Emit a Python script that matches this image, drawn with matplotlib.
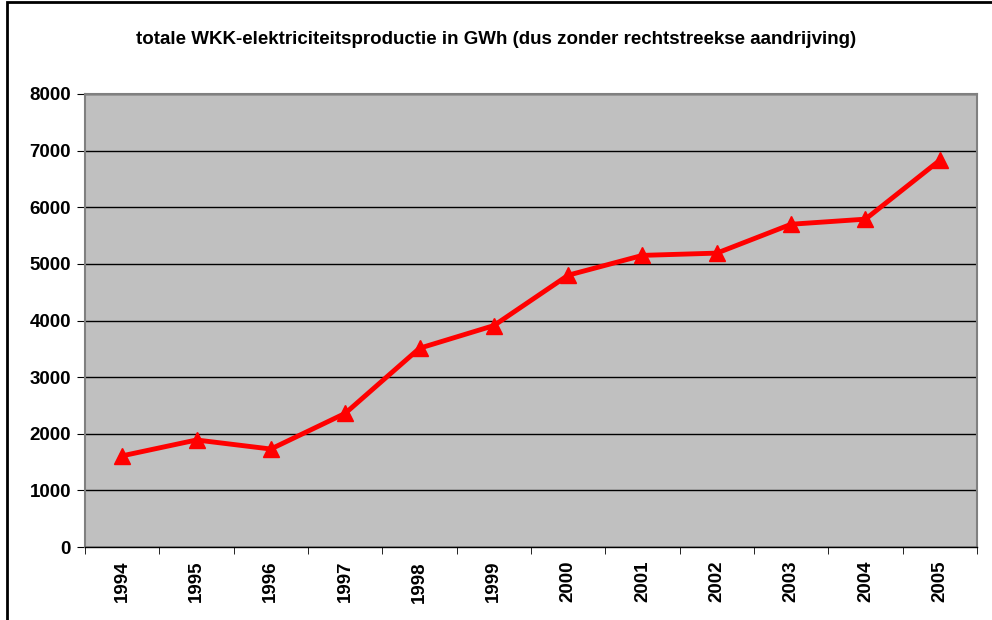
import matplotlib.pyplot as plt
from matplotlib.patches import Rectangle
import numpy as np

plt.rcParams['font.family'] = ['Liberation Sans', 'DejaVu Sans']

years = ['1994', '1995', '1996', '1997', '1998', '1999',
         '2000', '2001', '2002', '2003', '2004', '2005']
gwh = [1610, 1890, 1730, 2360, 3510, 3910, 4800, 5150, 5190, 5700, 5790, 6830]
title = 'totale WKK-elektriciteitsproductie in GWh (dus zonder rechtstreekse aandrijving)'

W, H = 992, 620
fig = plt.figure(figsize=(W / 100, H / 100), dpi=100)
fig.patch.set_facecolor('white')

# outer chart frame (cut off on right/bottom)
fig.add_artist(Rectangle((7 / W, -0.1), 1.2, 1 - 2 / H + 0.1,
                         transform=fig.transFigure, fill=False,
                         edgecolor='black', linewidth=2))

ax = fig.add_axes([85 / W, 1 - 547 / H, (977 - 85) / W, (547 - 94) / H])
ax.set_facecolor('#c0c0c0')

x = np.arange(len(years))
ax.plot(x, gwh, color='#ff0000', linewidth=3.5, marker='^', markersize=11,
        markeredgecolor='#ff0000', zorder=3)

ax.set_xlim(-0.5, len(years) - 0.5)
ax.set_ylim(0, 8000)
ax.set_yticks(np.arange(0, 8001, 1000))
ax.yaxis.grid(True, color='black', linewidth=1)
ax.set_axisbelow(True)

ax.set_xticks(x)
ax.set_xticklabels(years, rotation=90, fontsize=13.5, fontweight='bold')
ax.tick_params(axis='x', length=0, pad=10)
ax.set_xticks(np.arange(-0.5, len(years)), minor=True)
ax.tick_params(axis='x', which='minor', length=5, color='black')
ax.tick_params(axis='y', length=6, labelsize=13.5, pad=4)
for lab in ax.get_yticklabels():
    lab.set_fontweight('bold')

for side in ['left', 'right', 'top']:
    ax.spines[side].set_color('#808080')
    ax.spines[side].set_linewidth(1.5)
ax.spines['bottom'].set_color('black')
ax.spines['bottom'].set_linewidth(1)

fig.text(0.5, 1 - 40 / H, title, ha='center', va='center',
         fontsize=13.5, fontweight='bold')

fig.savefig('out.png', dpi=100)
